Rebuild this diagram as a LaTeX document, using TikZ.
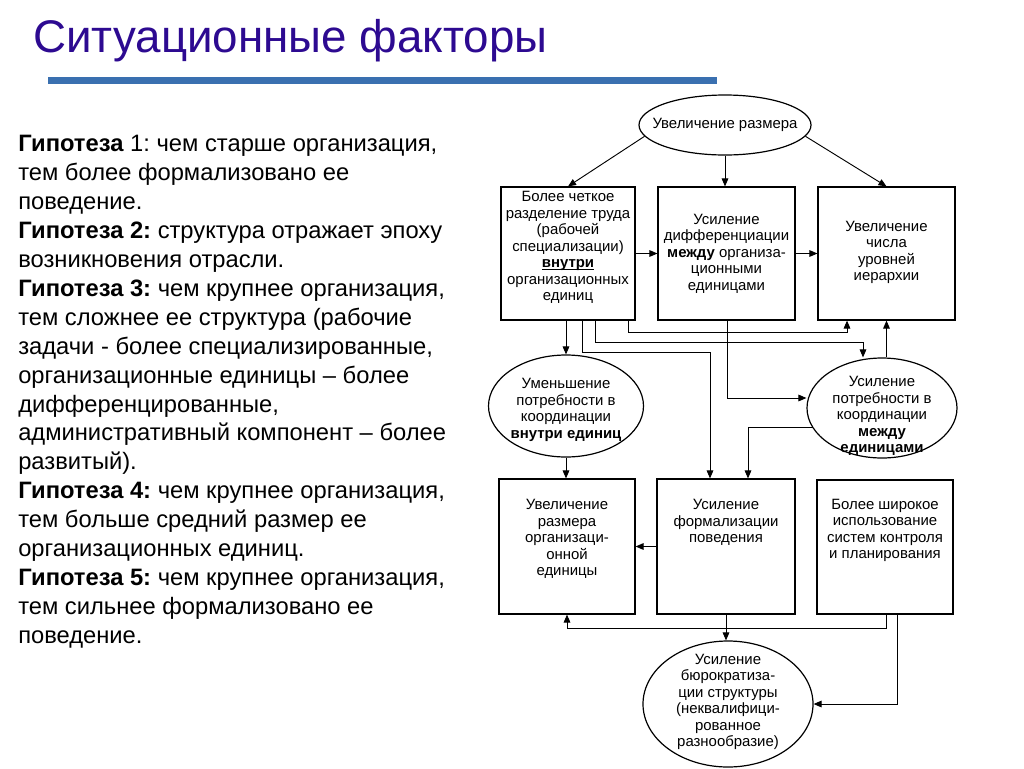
\documentclass[tikz,border=0pt]{standalone}
\usepackage{fontspec}
\setmainfont{Liberation Sans}
\usetikzlibrary{arrows.meta,shapes.geometric}
\definecolor{titlecol}{RGB}{45,10,145}
\definecolor{barcol}{RGB}{58,112,176}
\frenchspacing
\begin{document}
\begin{tikzpicture}[x=0.75pt,y=-0.75pt,
  boxstyle/.style={draw,line width=0.9pt,inner sep=0pt,rectangle},
  ellstyle/.style={draw,line width=0.9pt,inner sep=0pt,ellipse},
  txt/.style={font=\fontsize{11.2}{12.4}\selectfont,align=center,inner sep=0pt},
  arr/.style={line width=0.7pt,-{Triangle[length=6pt,width=5pt]}},
  ln/.style={line width=0.7pt}]
\fill[white] (0,0) rectangle (1024,768);
\useasboundingbox (0,0) rectangle (1024,768);
% title and bar
\node[anchor=base west,inner sep=0pt,text=titlecol,font=\fontsize{34.3}{40}\selectfont] (title) at (33,52) {Ситуационные факторы};
\fill[barcol] (48,77) rectangle (717,84);
% left text
\node[anchor=north west,inner sep=0pt,align=left,font=\fontsize{17.8}{21.7}\selectfont] (hyp) at (18,135) {%
\textbf{Гипотеза} 1: чем старше организация,\\
тем более формализовано ее\\
поведение.\\
\textbf{Гипотеза 2:} структура отражает эпоху\\
возникновения отрасли.\\
\textbf{Гипотеза 3:} чем крупнее организация,\\
тем сложнее ее структура (рабочие\\
задачи - более специализированные,\\
организационные единицы -- более\\
дифференцированные,\\
административный компонент -- более\\
развитый).\\
\textbf{Гипотеза 4:} чем крупнее организация,\\
тем больше средний размер ее\\
организационных единиц.\\
\textbf{Гипотеза 5:} чем крупнее организация,\\
тем сильнее формализовано ее\\
поведение.};
% shapes
\node[ellstyle,minimum width=129pt,minimum height=45pt] (TE) at (725,125) {};
\node[txt] (TEt) at (725,125) {Увеличение размера};
\node[boxstyle,minimum width=100.5pt,minimum height=99.75pt] (A) at (568,253.5) {};
\node[boxstyle,minimum width=102.75pt,minimum height=99.75pt] (B) at (726.5,253.5) {};
\node[boxstyle,minimum width=102.75pt,minimum height=99.75pt] (C) at (886.5,253.5) {};
\node[txt] (At) at (568,247.5) {Более четкое\\разделение труда\\(рабочей\\специализации)\\\underline{\raisebox{0pt}[\height][0pt]{\textbf{внутри}}}\\организационных\\единиц};
\node[txt] (Bt) at (726.5,253.5) {Усиление\\дифференциации\\\textbf{между} организа-\\ционными\\единицами};
\node[txt] (Ct) at (886.5,252.5) {Увеличение\\числа\\уровней\\иерархии};
\node[ellstyle,minimum width=116.25pt,minimum height=76.5pt] (LE) at (566,406) {};
\node[txt] (LEt) at (566,410) {Уменьшение\\потребности в\\координации\\\textbf{внутри единиц}};
\node[ellstyle,minimum width=112.5pt,minimum height=75pt] (RE) at (882,408) {};
\node[txt] (REt) at (882,416) {Усиление\\потребности в\\координации\\\textbf{между}\\\textbf{единицами}};
\node[boxstyle,minimum width=102pt,minimum height=101.25pt] (D) at (567,546.5) {};
\node[boxstyle,minimum width=103.5pt,minimum height=101.25pt] (E) at (726,546.5) {};
\node[boxstyle,minimum width=102pt,minimum height=100.5pt] (F) at (885,547) {};
\node[txt] (Dt) at (567,539) {Увеличение\\размера\\организаци-\\онной\\единицы};
\node[txt] (Et) at (726,522.5) {Усиление\\формализации\\поведения};
\node[txt] (Ft) at (885,530.5) {Более широкое\\использование\\систем контроля\\и планирования};
\node[ellstyle,minimum width=127.5pt,minimum height=94.5pt] (BE) at (728,704) {};
\node[txt] (BEt) at (728,702) {Усиление\\бюрократиза-\\ции структуры\\(неквалифици-\\рованное\\разнообразие)};
% bend coordinates
\coordinate (k2a) at (582,352); \coordinate (k2b) at (710,352);
\coordinate (k3a) at (595,342); \coordinate (k3b) at (863,342);
\coordinate (k4a) at (628,332); \coordinate (k4b) at (847,332);
\coordinate (k5) at (727,398);
\coordinate (k7) at (748,0);
\coordinate (k11) at (886,628);
\coordinate (k12) at (897,0);
% connectors
\draw[arr] (TE.188) -- (A.north);
\draw[arr] (TE.south) -- (TE.south |- B.north);
\draw[arr] (TE.-8) -- (C.north);
\draw[arr] (A.east) -- (B.west);
\draw[arr] (B.east) -- (C.west);
\draw[arr] (A.south -| LE.north) -- (LE.north);
\draw[arr] (A.south -| k2a) -- (k2a) -- (k2b) -- (E.north -| k2b);
\draw[arr] (A.south -| k3a) -- (k3a) -- (k3b) -- (k3b |- RE.north);
\draw[arr] (A.south -| k4a) -- (k4a) -- (k4b) -- (C.south -| k4b);
\draw[arr] (B.south -| k5) -- (k5) -- (k5 -| RE.west);
\draw[arr] (C.south |- RE.north) -- (C.south);
\draw[arr] (RE.196) -| (k7 |- E.north);
\draw[arr] (LE.south) -- (D.north -| LE.south);
\draw[arr] (E.west) -- (D.east);
\draw[arr] (E.south) -- (E.south |- BE.north);
\draw[arr] (F.south -| k11) -- (k11) -| (D.south);
\draw[arr] (F.south -| k12) |- (BE.east);
\end{tikzpicture}
\end{document}
